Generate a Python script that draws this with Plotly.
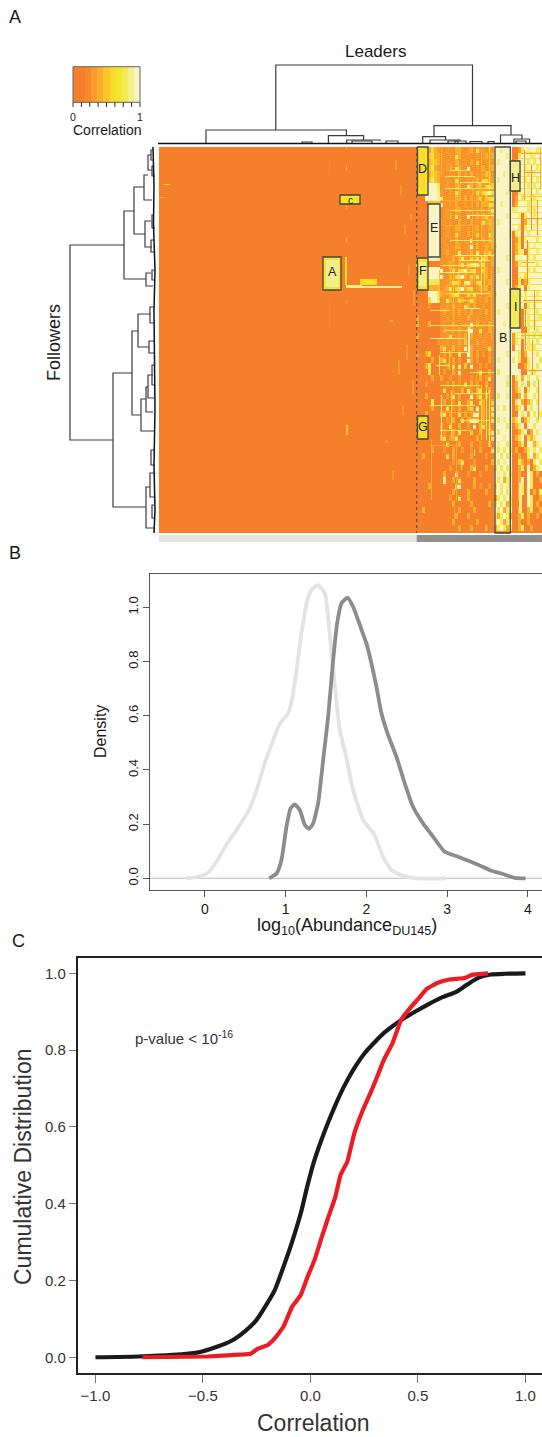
import plotly.graph_objects as go

W, H = 542, 1437
FONT = "Liberation Sans"

# ---------- Panel A data ----------
level_colors = ["#f57f2a", "#f68a2b", "#f89b2c", "#fbae2c", "#fdc42c", "#f9dc2b",
                "#f3e72e", "#f1ea56", "#f3ee8c", "#f8f4c4"]
legend_levels = [0, 0, 1, 2, 3, 4, 5, 6, 7, 8, 9]
legend_ticks = [0, 1/8, 2/8, 3/8, 4/8, 5/8, 6/8, 7/8, 1]

# right block of the heat map: one character per cell, 3 leaders wide, 6 followers tall
texture_rows = """
00003532 002003300230722020 998999 0027989979
00004633 200207300200202303 999989 0079997899
00003543 002003002030500220 989998 0289979799
00004732 002307300900203023 999999 0079899979
00003543 200200302030202430 999899 0089979899
00004743 002007200202305532 989999 0099798979
00009997 002003300830342574 999999 0099979799
00009998 200207300202535795 999989 0079989979
00099998 800203303030372457 999999 0297998799
00004444 800203002020303375 998999 0399979899
00009997 002003300200202037 999999 7899979799
00009997 002307200900303523 999989 9980799799
00009998 200200302030207343 989999 9990389979
00009997 002003300202302033 999999 9970799899
00009998 002007200302502073 999998 0790979989
00009997 200203002090203033 999999 0270899979
00009998 002003300290302323 899999 0370979899
00009997 023002700230720352 999999 0378079979
00009998 002030372053725403 999989 0899979799
77000000 002300372579737203 999999 0279899979
00009999 900372579357225300 989999 0099979799
00009999 900325793253702300 999999 0089699999
00007777 002375307932570230 999989 0070379999
00003333 023725793570232300 999999 0379089999
00009997 320357302537200230 899999 0079799979
00005997 027302530273020300 999999 2899799989
00002000 002030207303002000 999989 9989079799
00000000 030020302030020300 989999 9980789979
30000000 002000200300200200 999999 9970979987
30003000 020030002090302030 999899 9970979799
00000000 030020300390070030 999999 9990079879
30000000 002700203030020200 998999 2897979797
00000002 002000304000302000 999999 2790979979
00000000 370040209030200270 999999 0990978799
20035000 020300700930302020 999989 9970399979
00000300 370030200930200030 989999 7970079997
00037000 002070804090020200 999999 9900379979
00007000 020030800000270030 979999 9990097799
00000300 300200200020030270 999989 0793979979
00020000 002030207030200300 999979 0397939799
00000000 070020030720470030 999999 0379079979
00030000 002070300090370300 979989 0039399799
00000700 030020700370073005 999999 0793037979
00000300 007020300350903007 989799 0379097999
00030000 370200703029903007 999999 0097939797
00070000 002030070399703007 979899 3790379979
00000000 200700300209037020 999979 0379099799
00300000 020030700050030037 979999 0037903979
00000000 370237000000300007 999899 0379073799
00000000 007000300030020030 989979 0037099379
00000300 020030020020030007 979797 0300379797
00300000 007030000030000200 997979 0030079379
00000000 000020370002000003 979899 0073030797
00000000 000200000037000300 797979 0037090379
00000000 030009000200020000 989797 0030097030
00000000 000030700003000000 979379 0039097003
00003000 000007900003020020 797989 0037097000
00000000 000030000300000300 897979 0037090307
00000000 000200700300000000 379797 0030097003
00000000 000030000030000030 797937 0000097030
00300000 000000300003000000 979379 0030037003
00000000 000003000300000000 737973 0037030030
00000000 000030000000300000 797379 0030030000
00000000 000000300030000300 379737 0037003000
""".strip().splitlines()

# background level of the middle of the block, row by row
row_floor = "2222222222222222222222222222222222" + "1111111111111111" + "00000000000000"

# thin vertical streaks in the right block: leader, from follower, to follower, level
vs_x = [489, 458, 481, 441, 449, 445, 472, 488, 468, 469, 453, 458, 481, 484, 491, 439, 439, 449, 468, 441, 451, 481, 486, 489, 476, 431, 456, 461, 443, 444, 445, 455, 474, 454, 524, 531, 537, 540, 527, 534, 525, 532, 538]
vs_y0 = [147, 160, 150, 147, 147, 190, 180, 200, 327, 327, 260, 270, 255, 250, 250, 270, 355, 350, 347, 395, 390, 385, 385, 390, 375, 440, 440, 460, 477, 477, 477, 485, 450, 500, 150, 165, 200, 147, 240, 290, 310, 340, 380]
vs_y1 = [190, 190, 240, 175, 240, 247, 245, 247, 357, 357, 320, 300, 295, 290, 340, 300, 375, 370, 357, 440, 440, 440, 440, 447, 400, 500, 500, 470, 484, 484, 484, 490, 456, 520, 200, 230, 235, 190, 285, 330, 350, 375, 420]
vs_level = [5, 4, 3, 3, 2, 2, 3, 3, 9, 9, 4, 5, 7, 5, 3, 4, 7, 5, 9, 8, 5, 5, 7, 8, 3, 3, 3, 7, 8, 8, 8, 6, 8, 3, 2, 1, 2, 3, 1, 2, 1, 2, 1]

# thin horizontal streaks in the right block: follower, from leader, to leader, level
hs_y = [170, 176, 182, 188, 200, 210, 215, 225, 240, 255, 260, 265, 272, 293, 300, 308, 310, 325, 330, 338, 352, 365, 372, 385, 393, 405, 412, 420, 430, 445, 153, 172, 196, 218, 262, 300, 335, 370]
hs_x0 = [450, 445, 460, 445, 441, 450, 470, 445, 450, 455, 460, 440, 440, 445, 460, 465, 430, 430, 445, 430, 440, 436, 470, 440, 455, 430, 440, 460, 440, 430, 521, 524, 522, 526, 521, 523, 521, 522]
hs_x1 = [470, 475, 490, 495, 480, 490, 495, 465, 492, 495, 490, 480, 470, 490, 470, 480, 450, 495, 470, 465, 470, 450, 495, 480, 490, 475, 495, 490, 470, 460, 542, 540, 542, 542, 535, 542, 542, 542]
hs_level = [7, 7, 8, 7, 3, 7, 8, 3, 7, 8, 8, 7, 8, 7, 7, 8, 7, 7, 7, 8, 7, 7, 7, 7, 7, 7, 3, 7, 7, 3, 3, 2, 4, 2, 3, 2, 3, 2]

# rectangles of raised correlation: leader from/to, follower from/to, level
patch_x0 = [323, 326, 340, 417, 419, 428, 417, 419, 510, 510, 417, 420, 345, 346, 360, 364, 357, 519, 164, 159, 346, 346, 346, 346, 329, 329, 346, 346, 395, 400, 404, 408, 390, 398, 410, 385, 402, 413, 392, 406, 412]
patch_x1 = [341, 339, 360, 428, 425, 440, 428, 426, 520, 520, 428, 425, 347, 362, 377, 374, 402, 522, 170, 165, 347, 347, 347, 347, 330, 330, 347, 348, 397, 402, 406, 410, 393, 400, 412, 388, 404, 415, 394, 408, 414]
patch_y0 = [257, 260, 195, 147, 150, 204, 258, 262, 161, 289, 416, 420, 257, 285, 279, 281, 286, 483, 184, 197, 147, 165, 205, 238, 160, 300, 300, 425, 160, 185, 225, 265, 320, 360, 215, 440, 405, 290, 470, 345, 380]
patch_y1 = [290, 287, 204, 195, 190, 257, 290, 286, 191, 328, 439, 434, 285, 288, 285, 284, 288, 513, 185, 198, 150, 170, 209, 242, 175, 330, 304, 435, 170, 195, 235, 275, 322, 375, 220, 443, 415, 305, 480, 360, 395]
patch_level = [6, 8, 6, 6, 5, 9, 6, 8, 8, 7, 5, 5, 5, 8, 5, 6, 8, 8, 5, 3, 3, 3, 3, 3, 1, 1, 3, 4, 2, 2, 2, 2, 3, 2, 2, 2, 2, 2, 2, 2, 2]

# boxes and their letters
box_names = ["A", "c", "D", "E", "F", "G", "H", "I", "B"]
box_x0 = [323, 340, 417.5, 428, 417.5, 417.5, 510.3, 510.3, 495]
box_x1 = [341, 360, 428, 440, 428, 428, 520, 520, 510.3]
box_y0 = [257, 195, 147, 204, 258, 416, 161, 289, 147]
box_y1 = [290, 204, 195, 257, 290, 439, 191, 328, 533]
box_label_y = [272, 200, 169, 228, 271, 427, 178, 307, 338]

# dendrograms: merge height, span, and the heights of both legs
top_h = [65, 130, 135.7, 140, 141, 125.7, 136.7, 140, 141, 135, 139, 141, 142, 141, 141, 141.5, 141.5]
top_a = [275.8, 206, 328.4, 346.7, 352, 434, 422.7, 430, 448, 500.5, 514, 516, 302, 386, 455, 470, 488]
top_b = [472.5, 346.4, 363.6, 380, 372, 511, 445.6, 460, 458, 522, 529.6, 526, 312, 398, 466, 482, 494]
top_ha = [130, 143, 143, 143, 143, 136.7, 143, 143, 143, 143, 143, 143, 143, 143, 143, 143, 143]
top_hb = [125.7, 135.7, 140, 141, 143, 135, 140, 141, 143, 139, 143, 143, 143, 143, 143, 143, 143]

left_h = [70, 124, 134, 144, 145, 146, 113, 132, 138, 150, 149, 141, 146, 148, 146, 150, 148, 151, 152, 152, 151, 152, 152, 151, 152]
left_a = [245, 211, 187, 175, 221, 273, 373, 331, 314, 307, 341, 399, 387, 375, 487, 473, 155, 150, 166, 215, 240, 270, 365, 450, 505]
left_b = [440, 279, 234, 200, 247, 286, 507, 415, 347, 323, 353, 431, 412, 398, 528, 497, 170, 160, 176, 228, 252, 280, 385, 465, 518]
left_ha = [124, 134, 144, 148, 151, 151, 132, 138, 150, 155, 154, 146, 148, 153, 150, 154, 151, 153, 154, 154, 154, 154, 154, 154, 154]
left_hb = [113, 146, 145, 152, 152, 153, 146, 141, 149, 155, 155, 155, 153, 154, 155, 155, 152, 154, 155, 155, 155, 155, 155, 155, 155]
left_edge_y = [147, 185, 225, 270, 310, 360, 410, 465, 510, 533]
left_edge_x = [153, 154, 153.5, 155, 154, 154.5, 155, 154, 155, 154]

# ---------- Panel B data ----------
b_xticks = [0, 1, 2, 3, 4]
b_yticks = [0.0, 0.2, 0.4, 0.6, 0.8, 1.0]
follower_x = [-0.235, -0.10, 0.04, 0.145, 0.25, 0.39, 0.535, 0.64, 0.74, 0.845, 0.93, 1.03, 1.085, 1.135, 1.195, 1.26, 1.32, 1.40, 1.485, 1.545, 1.61, 1.67, 1.75, 1.835, 1.96, 2.10, 2.205, 2.31, 2.43, 2.62, 2.99]
follower_y = [0, .004, .021, .062, .117, .178, .246, .326, .424, .51, .572, .609, .67, .769, .904, 1.015, 1.064, 1.082, 1.052, .904, .707, .547, .449, .326, .215, .16, .08, .031, .012, 0, 0]
leader_x = [0.796, .887, .948, 1.01, 1.06, 1.113, 1.175, 1.237, 1.29, 1.34, 1.402, 1.464, 1.526, 1.588, 1.637, 1.691, 1.765, 1.835, 1.918, 2.0, 2.062, 2.124, 2.186, 2.268, 2.371, 2.474, 2.577, 2.701, 2.825, 2.969, 3.134, 3.361, 3.546, 3.691, 3.835, 3.971]
leader_y = [0, .018, .068, .191, .258, .273, .252, .197, .183, .203, .277, .437, .597, .806, .941, 1.015, 1.036, 1.002, .935, .867, .793, .707, .609, .529, .449, .351, .264, .203, .154, .098, .08, .053, .028, .016, .002, 0]

# ---------- Panel C data ----------
c_xticks = [-1.0, -0.5, 0.0, 0.5, 1.0]
c_xlabels = ["\u22121.0", "\u22120.5", "0.0", "0.5", "1.0"]
c_yticks = [0.0, 0.2, 0.4, 0.6, 0.8, 1.0]
all_x = [-1.0, -.80, -.64, -.527, -.431, -.367, -.302, -.254, -.206, -.166, -.125, -.085, -.045, -.013, .019, .051, .084, .116, .156, .204, .252, .301, .349, .421, .486, .55, .614, .678, .727, .783, .839, .904, 1.0]
all_y = [0, .002, .006, .012, .028, .043, .069, .095, .136, .175, .236, .301, .375, .449, .514, .566, .614, .657, .705, .753, .792, .822, .848, .878, .9, .92, .938, .952, .97, .989, .997, .999, 1.0]
pair_x = [-.781, -.479, -.383, -.278, -.246, -.198, -.166, -.125, -.085, -.045, -.013, .019, .051, .084, .116, .14, .172, .204, .244, .285, .317, .341, .381, .421, .461, .502, .542, .59, .646, .719, .751, .826]
pair_y = [0, .002, .005, .009, .022, .032, .049, .08, .132, .162, .21, .253, .31, .366, .418, .475, .51, .583, .644, .696, .74, .774, .817, .878, .908, .934, .96, .975, .984, .988, .996, 1.0]

# ---------- build the heat map ----------
HX0, HX1, HY0, HY1 = 159, 542, 147, 533
z = [[0] * (HX1 - HX0) for _ in range(HY1 - HY0)]
TX0 = 416
for r, line in enumerate(texture_rows):
    s = "".join(line.split()).ljust(42, "0")[:42]
    floor = int(row_floor[r])
    for yy in range(HY0 + 6 * r, min(HY1, HY0 + 6 * r + 6)):
        for c, ch in enumerate(s):
            lv = int(ch)
            # a bright cell reads as a dash, not a block
            if 8 <= c < 26:
                if lv >= 5 and (yy - HY0) % 6 < 2:
                    lv = 2
                lv = max(lv, floor if (c + yy) % 2 else floor - 1)
            elif c >= 32 and r < 34 and lv >= 8 and (yy - HY0) % 6 == 5:
                lv = 6
            for xx in range(TX0 + 3 * c, min(HX1, TX0 + 3 * c + 3)):
                z[yy - HY0][xx - HX0] = lv
for a, c, d, lv in zip(vs_x, vs_y0, vs_y1, vs_level):
    for yy in range(c, d):
        z[yy - HY0][a - HX0] = lv
for c, a, b, lv in zip(hs_y, hs_x0, hs_x1, hs_level):
    for xx in range(a, b):
        z[c - HY0][xx - HX0] = lv
for a, b, c, d, lv in zip(patch_x0, patch_x1, patch_y0, patch_y1, patch_level):
    for yy in range(c, d):
        for xx in range(a, b):
            z[yy - HY0][xx - HX0] = lv

n = len(level_colors)
scale = []
for i, col in enumerate(level_colors):
    scale += [[i / n, col], [(i + 1) / n, col]]

fig = go.Figure()
pa = dict(xaxis="x", yaxis="y")
fig.add_trace(go.Heatmap(z=z, x0=HX0 + .5, dx=1, y0=HY0 + .5, dy=1, zmin=-.5, zmax=n - .5,
                         colorscale=scale, showscale=False, hoverinfo="skip", **pa))
lw = (140 - 73) / len(legend_levels)
fig.add_trace(go.Heatmap(z=[legend_levels], x0=73 + lw / 2, dx=lw, y0=84.5, dy=35.6, zmin=-.5, zmax=n - .5,
                         colorscale=scale, showscale=False, hoverinfo="skip", **pa))

def seg(a, b, h, ha, hb, horizontal_is_x=True):
    xs, ys = [], []
    for p, q, m, u, v in zip(a, b, h, ha, hb):
        if horizontal_is_x:
            xs += [p, p, q, q, None]
            ys += [u, m, m, v, None]
        else:
            xs += [u, m, m, v, None]
            ys += [p, p, q, q, None]
    return xs, ys

tx, ty = seg(top_a, top_b, top_h, top_ha, top_hb, True)
lx, ly = seg(left_a, left_b, left_h, left_ha, left_hb, False)
for xs, ys in ((tx, ty), (lx, ly)):
    fig.add_trace(go.Scatter(x=xs, y=ys, mode="lines", line=dict(color="#3a3a3a", width=1.2),
                             hoverinfo="skip", **pa))
fig.add_trace(go.Scatter(x=[158, 542], y=[143.5, 143.5], mode="lines", line=dict(color="#111", width=1.5),
                         hoverinfo="skip", **pa))
fig.add_trace(go.Scatter(x=left_edge_x, y=left_edge_y, mode="lines", line=dict(color="#111", width=1.5),
                         hoverinfo="skip", **pa))

shapes = []
for a, b, c, d in zip(box_x0, box_x1, box_y0, box_y1):
    shapes.append(dict(type="rect", xref="x", yref="y", x0=a, x1=b, y0=c, y1=d,
                       line=dict(color="#444", width=1.3)))
shapes.append(dict(type="line", xref="x", yref="y", x0=416.7, x1=416.7, y0=147, y1=533,
                   line=dict(color="#555", width=1.2, dash="dot")))
shapes.append(dict(type="rect", xref="x", yref="y", x0=159, x1=416.7, y0=535, y1=542,
                   fillcolor="#e3e3e3", line=dict(width=0)))
shapes.append(dict(type="rect", xref="x", yref="y", x0=416.7, x1=542, y0=535, y1=542,
                   fillcolor="#8f8f8f", line=dict(width=0)))
shapes.append(dict(type="rect", xref="x", yref="y", x0=73, x1=140, y0=66.7, y1=102.3,
                   line=dict(color="#666", width=1)))
for t in legend_ticks:
    shapes.append(dict(type="line", xref="x", yref="y", x0=73 + 67 * t, x1=73 + 67 * t, y0=102.3, y1=107,
                       line=dict(color="#333", width=1)))

# Panel B
fig.add_trace(go.Scatter(x=[-0.68, 4.2], y=[0, 0], mode="lines", line=dict(color="#c8c8c8", width=1.2),
                         xaxis="x2", yaxis="y2", hoverinfo="skip"))
fig.add_trace(go.Scatter(x=follower_x, y=follower_y, mode="lines", line=dict(color="#e3e3e3", width=3.8, shape="spline", smoothing=0.5),
                         xaxis="x2", yaxis="y2", hoverinfo="skip"))
fig.add_trace(go.Scatter(x=leader_x, y=leader_y, mode="lines", line=dict(color="#8c8c8c", width=3.8, shape="spline", smoothing=0.5),
                         xaxis="x2", yaxis="y2", hoverinfo="skip"))
# Panel C
fig.add_trace(go.Scatter(x=all_x, y=all_y, mode="lines", line=dict(color="#1a1a1a", width=4.2, shape="spline", smoothing=0.6),
                         xaxis="x3", yaxis="y3", hoverinfo="skip"))
fig.add_trace(go.Scatter(x=pair_x, y=pair_y, mode="lines", line=dict(color="#ec1c24", width=4.2, shape="spline", smoothing=0.3),
                         xaxis="x3", yaxis="y3", hoverinfo="skip"))

def dx(l, r):
    return [l / W, r / W]
def dy(t, b):
    return [1 - b / H, 1 - t / H]

ann = []
def text(s, x, y, size, color="#1a1a1a", angle=0, ax="center"):
    ann.append(dict(text=s, x=x / W, y=1 - y / H, xref="paper", yref="paper", showarrow=False,
                    font=dict(family=FONT, size=size, color=color), textangle=angle,
                    xanchor=ax, yanchor="middle"))

text("A", 15, 17, 18)
text("B", 15, 553, 18)
text("C", 18, 941, 18)
text("Leaders", 375, 51, 17)
text("Followers", 54, 343, 18, angle=-90)
text("0", 73, 117, 10.5)
text("1", 140, 117, 10.5)
text("Correlation", 107, 130, 14)
for name, a, b, y in zip(box_names, box_x0, box_x1, box_label_y):
    text(name, (a + b) / 2, y, 12.5 if name != "c" else 10, color="#222")
text("Density", 100, 732, 16, angle=-90)
text("log<sub>10</sub>(Abundance<sub>DU145</sub>)", 347, 927, 18)
text("p-value < 10<sup>-16</sup>", 132.5, 1037, 15, color="#333", ax="left")
text("Cumulative Distribution", 23, 1167, 23, color="#333", angle=-90)
text("Correlation", 313, 1423, 23, color="#333")

fig.update_layout(
    width=W, height=H, autosize=False, margin=dict(l=0, r=0, t=0, b=0),
    paper_bgcolor="white", plot_bgcolor="rgba(0,0,0,0)", showlegend=False,
    shapes=shapes, annotations=ann, font=dict(family=FONT),
    xaxis=dict(domain=[0, 1], range=[0, 542], visible=False, fixedrange=True),
    yaxis=dict(domain=dy(0, 560), range=[560, 0], visible=False, fixedrange=True),
    xaxis2=dict(domain=dx(150, 542), range=[-0.68, 4.174], anchor="y2", tickmode="array",
                tickvals=b_xticks, ticktext=[str(t) for t in b_xticks], ticks="outside", ticklen=6,
                tickcolor="#555", tickwidth=1, showgrid=False, zeroline=False, showline=True,
                linecolor="#555", linewidth=1.3, mirror=True,
                tickfont=dict(family=FONT, size=14, color="#1a1a1a")),
    yaxis2=dict(domain=dy(574, 890), range=[-0.043, 1.123], anchor="x2", tickmode="array",
                tickvals=b_yticks, ticktext=["%.1f" % t for t in b_yticks], ticks="outside", ticklen=6,
                tickcolor="#555", tickwidth=1, showgrid=False, zeroline=False, showline=True,
                linecolor="#555", linewidth=1.3, tickangle=-90,
                tickfont=dict(family=FONT, size=13, color="#1a1a1a")),
    xaxis3=dict(domain=dx(78, 542), range=[-1.081, 1.077], anchor="y3", tickmode="array",
                tickvals=c_xticks, ticktext=c_xlabels, ticks="outside", ticklen=8,
                tickcolor="#777", tickwidth=1, showgrid=False, zeroline=False, showline=True,
                linecolor="#222", linewidth=2.4, mirror=True,
                tickfont=dict(family=FONT, size=15, color="#333")),
    yaxis3=dict(domain=dy(958, 1373), range=[-0.041, 1.04], anchor="x3", tickmode="array",
                tickvals=c_yticks, ticktext=["%.1f" % t for t in c_yticks], ticks="outside", ticklen=7,
                tickcolor="#777", tickwidth=1, showgrid=False, zeroline=False, showline=True,
                linecolor="#222", linewidth=2.4,
                tickfont=dict(family=FONT, size=15, color="#333")),
)

fig.write_html("out.html", config=dict(displayModeBar=False), post_script=(
    "document.body.style.margin='0';document.documentElement.style.margin='0';"
    "document.body.style.overflow='hidden';"))
